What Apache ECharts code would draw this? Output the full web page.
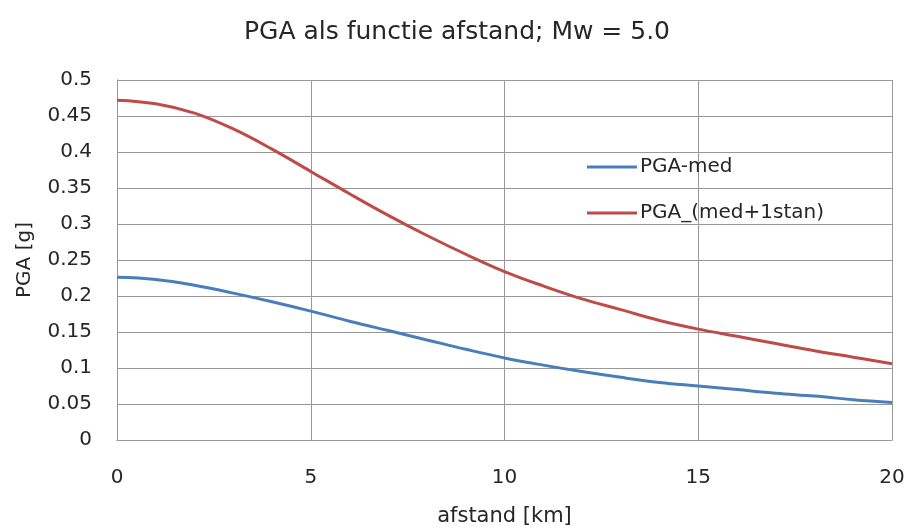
<!DOCTYPE html>
<html>
<head>
<meta charset="utf-8">
<script src="https://cdn.jsdelivr.net/npm/echarts@6/dist/echarts.min.js"></script>
<style>
  html, body { margin: 0; padding: 0; background: #fff; }
  #chart { width: 909px; height: 528px; }
</style>
</head>
<body>
<div id="chart"></div>
<script>
// Distance in km
const distance = [0, 1, 2, 3, 4, 5, 6, 7, 8, 9, 10, 11, 12, 13, 14, 15, 16, 17, 18, 19, 20];
// Median PGA [g]
const pgaMed = [0.226, 0.223, 0.215, 0.204, 0.192, 0.179, 0.165, 0.152, 0.139, 0.126, 0.114,
                0.104, 0.095, 0.087, 0.080, 0.075, 0.070, 0.065, 0.061, 0.056, 0.052];
// Median + 1 standard deviation PGA [g]
const pgaMedPlus = [0.472, 0.467, 0.454, 0.432, 0.404, 0.373, 0.342, 0.312, 0.284, 0.258, 0.234,
                    0.214, 0.196, 0.181, 0.166, 0.154, 0.144, 0.134, 0.124, 0.115, 0.106];
const seriesNames = ['PGA-med', 'PGA_(med+1stan)'];

const font = '"DejaVu Sans", "Noto Sans", sans-serif';
const textColor = '#262626';
const gridColor = '#999999';
const pairs = (ys) => distance.map((x, i) => [x, ys[i]]);

const chart = echarts.init(document.getElementById('chart'));
chart.setOption({
  animation: false,
  backgroundColor: '#ffffff',
  textStyle: { fontFamily: font },
  title: {
    text: 'PGA als functie afstand; Mw = 5.0',
    left: 452, top: 15, textAlign: 'center',
    textStyle: { fontFamily: font, fontSize: 25, fontWeight: 'normal', color: textColor }
  },
  grid: { left: 117, right: 17, top: 80, bottom: 88, outerBoundsMode: 'none', containLabel: false },
  legend: {
    orient: 'vertical',
    left: 582, top: 152,
    itemWidth: 50, itemHeight: 3, itemGap: 26,
    icon: 'rect',
    textStyle: { fontFamily: font, fontSize: 20, color: textColor, padding: [0, 0, 0, -2] },
    data: seriesNames
  },
  xAxis: [{
    type: 'value', min: 0, max: 20, interval: 5,
    name: 'afstand [km]', nameLocation: 'middle', nameGap: 66,
    nameTextStyle: { fontFamily: font, fontSize: 21, color: textColor },
    axisLine: { show: true, lineStyle: { color: gridColor } },
    axisTick: { show: false },
    axisLabel: { fontFamily: font, fontSize: 20, color: textColor, margin: 28 },
    splitLine: { show: true, lineStyle: { color: gridColor, width: 1 } }
  }, {
    // top edge of the plot frame
    type: 'value', position: 'top', min: 0, max: 20,
    axisLine: { show: true, lineStyle: { color: gridColor } },
    axisLabel: { show: false }, axisTick: { show: false }, splitLine: { show: false }
  }],
  yAxis: [{
    type: 'value', min: 0, max: 0.5, interval: 0.05,
    name: 'PGA [g]', nameLocation: 'middle', nameGap: 82,
    nameTextStyle: { fontFamily: font, fontSize: 20, color: textColor },
    axisLine: { show: true, lineStyle: { color: gridColor } },
    axisTick: { show: false },
    axisLabel: {
      fontFamily: font, fontSize: 20, color: textColor, margin: 25,
      padding: [7, 0, 0, 0],
      formatter: (v) => String(Math.round(v * 100) / 100)
    },
    splitLine: { show: true, lineStyle: { color: gridColor, width: 1 } }
  }, {
    // right edge of the plot frame
    type: 'value', position: 'right', min: 0, max: 0.5,
    axisLine: { show: true, lineStyle: { color: gridColor } },
    axisLabel: { show: false }, axisTick: { show: false }, splitLine: { show: false }
  }],
  series: [
    {
      name: seriesNames[0], type: 'line', smooth: 0.4,
      symbol: 'none', data: pairs(pgaMed),
      itemStyle: { color: '#4a7ebb' },
      lineStyle: { color: '#4a7ebb', width: 3 }
    },
    {
      name: seriesNames[1], type: 'line', smooth: 0.4,
      symbol: 'none', data: pairs(pgaMedPlus),
      itemStyle: { color: '#be4b48' },
      lineStyle: { color: '#be4b48', width: 3 }
    }
  ]
});
</script>
</body>
</html>
